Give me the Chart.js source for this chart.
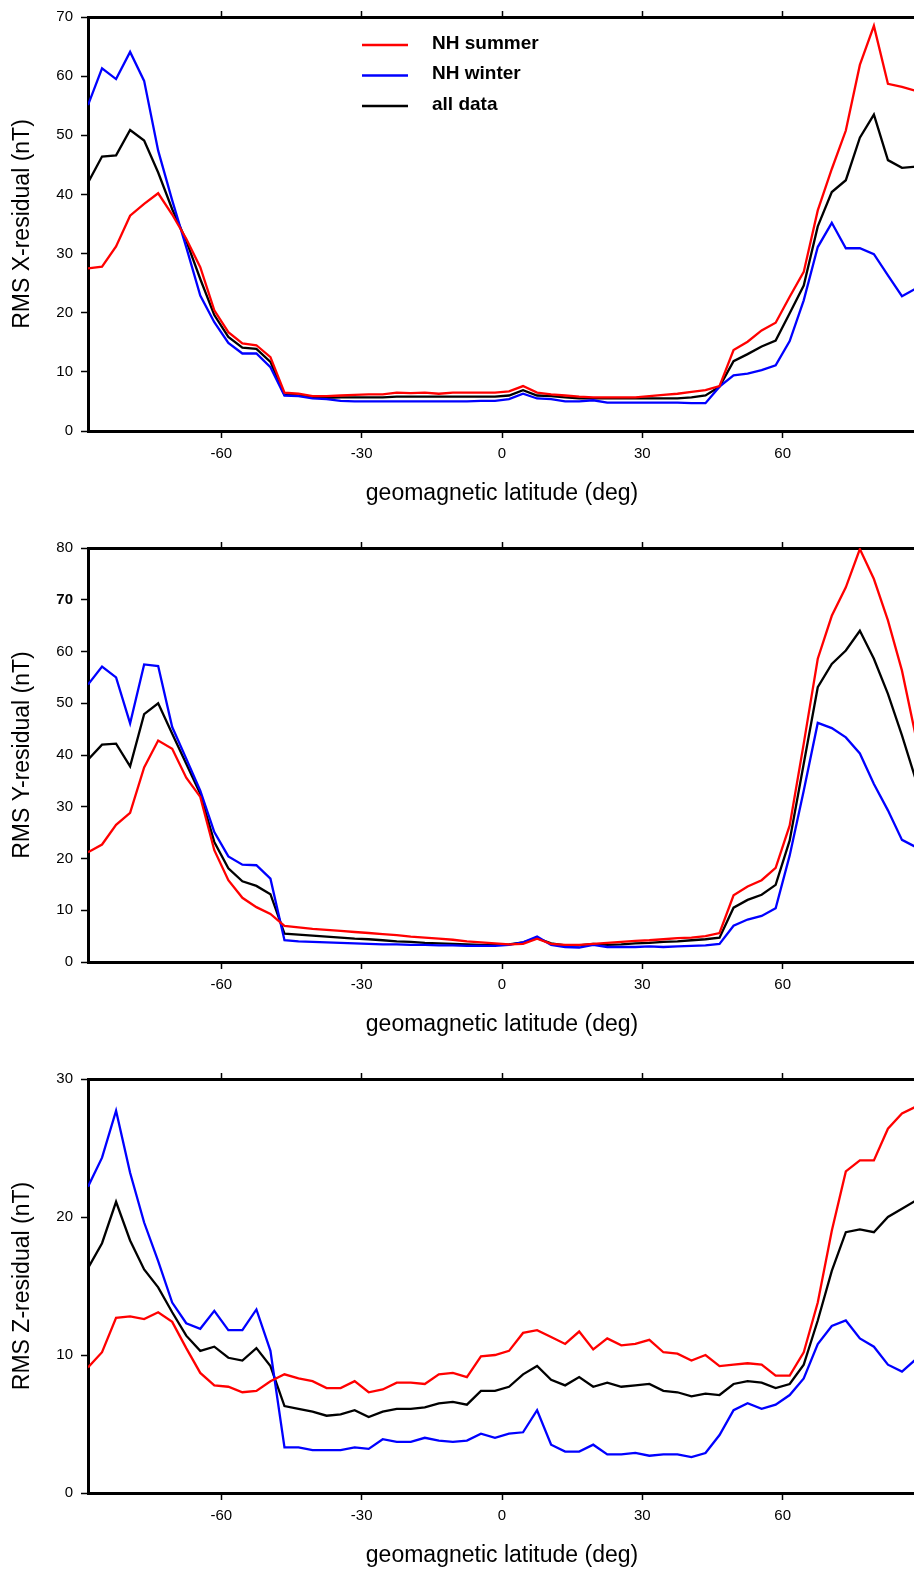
<!DOCTYPE html>
<html>
<head>
<meta charset="utf-8">
<title>RMS residuals vs geomagnetic latitude</title>
<script src="https://cdn.jsdelivr.net/npm/chart.js@4.4.0/dist/chart.umd.min.js"></script>
<style>
  html, body { margin: 0; padding: 0; background: #fff; width: 914px; height: 1571px; overflow: hidden; position: relative; }
  canvas { position: absolute; left: 0; }
</style>
</head>
<body>
<canvas id="panelX" width="920" height="530" style="top:0px"></canvas>
<canvas id="panelY" width="920" height="530" style="top:531px"></canvas>
<canvas id="panelZ" width="920" height="530" style="top:1062px"></canvas>
<script>
// Centres des bandes de latitude (3 degres)
const latitudes = [-88.5, -85.5, -82.5, -79.5, -76.5, -73.5, -70.5, -67.5, -64.5, -61.5,
  -58.5, -55.5, -52.5, -49.5, -46.5, -43.5, -40.5, -37.5, -34.5, -31.5,
  -28.5, -25.5, -22.5, -19.5, -16.5, -13.5, -10.5, -7.5, -4.5, -1.5,
  1.5, 4.5, 7.5, 10.5, 13.5, 16.5, 19.5, 22.5, 25.5, 28.5,
  31.5, 34.5, 37.5, 40.5, 43.5, 46.5, 49.5, 52.5, 55.5, 58.5,
  61.5, 64.5, 67.5, 70.5, 73.5, 76.5, 79.5, 82.5, 85.5, 88.5];

const xTickValues = [-60, -30, 0, 30, 60];
const seriesLabels = ['NH summer', 'NH winter', 'all data'];

// Panneau X
const xSummer = [27.5, 27.8, 31.2, 36.4, 38.4, 40.2, 36.6, 32.5, 27.7, 20.4,
  16.7, 14.8, 14.5, 12.5, 6.5, 6.3, 5.9, 5.9, 6.0, 6.1,
  6.2, 6.2, 6.5, 6.4, 6.5, 6.3, 6.5, 6.5, 6.5, 6.5,
  6.7, 7.6, 6.5, 6.2, 6.0, 5.8, 5.7, 5.7, 5.7, 5.7,
  5.9, 6.1, 6.3, 6.6, 6.9, 7.6, 13.7, 15.1, 17.0, 18.3,
  22.7, 26.9, 37.3, 44.3, 50.8, 61.9, 68.5, 58.7, 58.2, 57.5];
const xWinter = [55.1, 61.3, 59.5, 64.1, 59.2, 47.4, 39.0, 31.1, 22.9, 18.4,
  14.9, 13.1, 13.1, 10.8, 6.0, 5.9, 5.5, 5.4, 5.1, 5.0,
  5.0, 5.0, 5.0, 5.0, 5.0, 5.0, 5.0, 5.0, 5.1, 5.1,
  5.4, 6.3, 5.5, 5.4, 5.0, 5.0, 5.2, 4.8, 4.8, 4.8,
  4.8, 4.8, 4.8, 4.7, 4.7, 7.5, 9.4, 9.7, 10.3, 11.1,
  15.2, 22.1, 31.1, 35.2, 30.9, 30.9, 29.9, 26.3, 22.8, 24.1];
const xAll = [42.0, 46.4, 46.6, 50.9, 49.1, 43.7, 37.5, 32.2, 25.7, 19.6,
  15.9, 14.1, 13.9, 11.7, 6.1, 6.1, 5.7, 5.6, 5.7, 5.7,
  5.7, 5.7, 5.8, 5.8, 5.8, 5.8, 5.8, 5.8, 5.8, 5.8,
  6.0, 6.9, 6.0, 5.9, 5.7, 5.5, 5.5, 5.5, 5.5, 5.5,
  5.5, 5.5, 5.5, 5.7, 6.0, 7.5, 11.8, 13.0, 14.3, 15.3,
  19.9, 24.6, 34.6, 40.4, 42.4, 49.6, 53.5, 45.8, 44.5, 44.7];

// Panneau Y
const ySummer = [21.2, 22.7, 26.5, 28.8, 37.6, 42.8, 41.2, 35.6, 31.9, 21.6,
  15.8, 12.4, 10.6, 9.3, 7.0, 6.7, 6.4, 6.2, 6.0, 5.8,
  5.6, 5.4, 5.2, 4.9, 4.7, 4.5, 4.3, 4.0, 3.8, 3.6,
  3.4, 3.5, 4.5, 3.5, 3.3, 3.3, 3.5, 3.7, 3.9, 4.1,
  4.2, 4.4, 4.6, 4.7, 5.0, 5.6, 12.9, 14.6, 15.8, 18.2,
  26.4, 42.2, 58.6, 66.9, 72.4, 79.8, 74.0, 66.0, 56.3, 43.4];
const yWinter = [53.6, 57.1, 55.0, 46.1, 57.5, 57.2, 45.4, 39.3, 33.1, 25.1,
  20.4, 18.8, 18.7, 16.1, 4.2, 4.0, 3.9, 3.8, 3.7, 3.6,
  3.5, 3.4, 3.4, 3.3, 3.3, 3.2, 3.2, 3.1, 3.1, 3.1,
  3.3, 3.8, 4.9, 3.3, 2.9, 2.8, 3.3, 2.9, 2.9, 2.9,
  3.0, 2.9, 3.0, 3.1, 3.2, 3.5, 7.0, 8.2, 8.9, 10.4,
  20.6, 33.1, 46.2, 45.2, 43.4, 40.3, 34.4, 29.3, 23.6, 22.2];
const yAll = [39.1, 42.0, 42.2, 37.8, 47.9, 50.0, 44.1, 38.3, 32.5, 23.2,
  18.1, 15.6, 14.7, 13.1, 5.5, 5.3, 5.1, 4.9, 4.7, 4.5,
  4.4, 4.2, 4.0, 3.9, 3.7, 3.6, 3.5, 3.4, 3.3, 3.3,
  3.4, 3.8, 4.6, 3.6, 3.2, 3.2, 3.5, 3.3, 3.4, 3.6,
  3.7, 3.9, 4.0, 4.2, 4.4, 4.7, 10.5, 12.0, 13.0, 14.9,
  23.5, 38.3, 53.1, 57.6, 60.2, 64.0, 58.6, 51.8, 43.8, 35.1];

// Panneau Z
const zSummer = [9.1, 10.2, 12.7, 12.8, 12.6, 13.1, 12.4, 10.5, 8.7, 7.8,
  7.7, 7.3, 7.4, 8.1, 8.6, 8.3, 8.1, 7.6, 7.6, 8.1,
  7.3, 7.5, 8.0, 8.0, 7.9, 8.6, 8.7, 8.4, 9.9, 10.0,
  10.3, 11.6, 11.8, 11.3, 10.8, 11.7, 10.4, 11.2, 10.7, 10.8,
  11.1, 10.2, 10.1, 9.6, 10.0, 9.2, 9.3, 9.4, 9.3, 8.5,
  8.5, 10.2, 13.8, 19.0, 23.3, 24.1, 24.1, 26.4, 27.5, 28.0];
const zWinter = [22.2, 24.3, 27.7, 23.2, 19.6, 16.8, 13.8, 12.3, 11.9, 13.2,
  11.8, 11.8, 13.3, 10.3, 3.3, 3.3, 3.1, 3.1, 3.1, 3.3,
  3.2, 3.9, 3.7, 3.7, 4.0, 3.8, 3.7, 3.8, 4.3, 4.0,
  4.3, 4.4, 6.0, 3.5, 3.0, 3.0, 3.5, 2.8, 2.8, 2.9,
  2.7, 2.8, 2.8, 2.6, 2.9, 4.2, 6.0, 6.5, 6.1, 6.4,
  7.1, 8.3, 10.8, 12.1, 12.5, 11.2, 10.6, 9.3, 8.8, 9.7];
const zAll = [16.3, 18.1, 21.1, 18.3, 16.2, 14.9, 13.1, 11.4, 10.3, 10.6,
  9.8, 9.6, 10.5, 9.2, 6.3, 6.1, 5.9, 5.6, 5.7, 6.0,
  5.5, 5.9, 6.1, 6.1, 6.2, 6.5, 6.6, 6.4, 7.4, 7.4,
  7.7, 8.6, 9.2, 8.2, 7.8, 8.4, 7.7, 8.0, 7.7, 7.8,
  7.9, 7.4, 7.3, 7.0, 7.2, 7.1, 7.9, 8.1, 8.0, 7.6,
  7.9, 9.3, 12.5, 16.1, 18.9, 19.1, 18.9, 20.0, 20.6, 21.2];

const fontFamily = '"Liberation Sans", Arial, Helvetica, sans-serif';

// Legende dessinee dans la zone du graphique (panneau du haut)
const insideLegend = {
  id: 'insideLegend',
  afterDatasetsDraw(chart, args, opts) {
    if (!opts.show) return;
    const ctx = chart.ctx;
    ctx.save();
    chart.data.datasets.forEach((ds, i) => {
      const y = opts.top + i * opts.rowGap;
      ctx.strokeStyle = ds.borderColor;
      ctx.lineWidth = 2.3;
      ctx.beginPath();
      ctx.moveTo(opts.lineStart, y);
      ctx.lineTo(opts.lineEnd, y);
      ctx.stroke();
      ctx.fillStyle = '#000';
      ctx.font = 'bold 19px ' + fontFamily;
      ctx.textBaseline = 'middle';
      ctx.textAlign = 'left';
      ctx.fillText(ds.label, opts.textX, y - 1.5);
    });
    ctx.restore();
  }
};

function points(values) {
  return values.map((v, i) => ({ x: latitudes[i], y: v }));
}

function setXTicks(scale) {
  scale.ticks = xTickValues.map(v => ({ value: v }));
}

function makePanel(canvasId, yTitle, yMax, summer, winter, all, showLegend, boldTick) {
  const ctx = document.getElementById(canvasId).getContext('2d');
  return new Chart(ctx, {
    type: 'line',
    data: {
      datasets: [
        { label: seriesLabels[0], data: points(summer), borderColor: '#ff0000' },
        { label: seriesLabels[1], data: points(winter), borderColor: '#0000ff' },
        { label: seriesLabels[2], data: points(all), borderColor: '#000000' }
      ]
    },
    options: {
      responsive: false,
      animation: false,
      devicePixelRatio: 1,
      layout: { padding: { left: 0, right: 4, top: 0, bottom: 0 } },
      elements: {
        line: { borderWidth: 2.3, tension: 0, fill: false },
        point: { radius: 0, hoverRadius: 0 }
      },
      plugins: {
        legend: { display: false },
        tooltip: { enabled: false },
        insideLegend: { show: showLegend, lineStart: 362, lineEnd: 408, textX: 432, top: 45, rowGap: 30.5 }
      },
      scales: {
        x: {
          type: 'linear',
          position: 'bottom',
          min: -88.5,
          max: 88.5,
          afterBuildTicks: setXTicks,
          afterFit: s => { s.height = 99; },
          grid: { drawOnChartArea: false, drawTicks: true, tickLength: 7, tickWidth: 1.5, tickColor: '#000' },
          border: { display: true, width: 3, color: '#000' },
          ticks: { padding: 7, color: '#000', autoSkip: false, maxRotation: 0, font: { family: fontFamily, size: 15 } },
          title: { display: true, text: 'geomagnetic latitude (deg)', color: '#000', font: { family: fontFamily, size: 23 }, padding: { top: 0, bottom: 23 } }
        },
        xTop: {
          type: 'linear',
          position: 'top',
          min: -88.5,
          max: 88.5,
          afterBuildTicks: setXTicks,
          afterFit: s => { s.height = 16; },
          grid: { drawOnChartArea: false, drawTicks: true, tickLength: 6, tickWidth: 1.5, tickColor: '#000' },
          border: { display: true, width: 3, color: '#000' },
          ticks: { display: false }
        },
        y: {
          type: 'linear',
          position: 'left',
          min: 0,
          max: yMax,
          afterFit: s => { s.width = 88; },
          grid: { drawOnChartArea: false, drawTicks: true, tickLength: 7, tickWidth: 1.5, tickColor: '#000' },
          border: { display: true, width: 3, color: '#000' },
          ticks: {
            stepSize: 10,
            padding: 8,
            color: '#000',
            font: c => ({ family: fontFamily, size: 15, weight: (c.tick && c.tick.value === boldTick) ? 'bold' : 'normal' })
          },
          title: { display: true, text: yTitle, color: '#000', font: { family: fontFamily, size: 23 }, padding: { top: 9, bottom: 0 } }
        }
      }
    },
    plugins: [insideLegend]
  });
}

makePanel('panelX', 'RMS X-residual (nT)', 70, xSummer, xWinter, xAll, true, null);
makePanel('panelY', 'RMS Y-residual (nT)', 80, ySummer, yWinter, yAll, false, 70);
makePanel('panelZ', 'RMS Z-residual (nT)', 30, zSummer, zWinter, zAll, false, null);
</script>
</body>
</html>
